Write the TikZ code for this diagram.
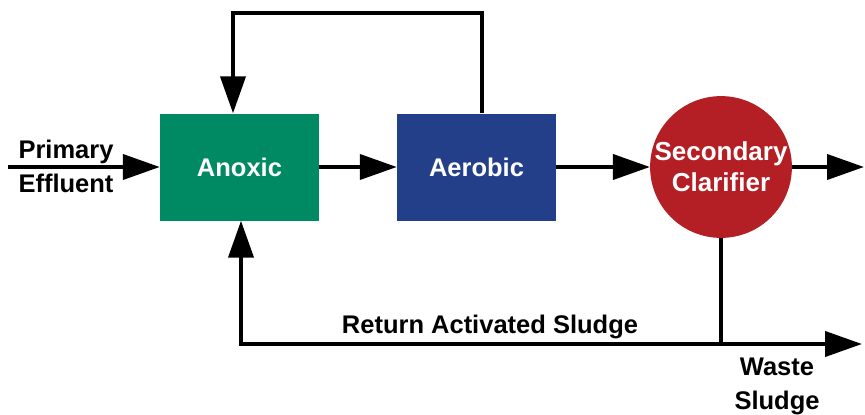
\documentclass[tikz,border=0pt]{standalone}
\usepackage{fontspec}
\setmainfont{Liberation Sans}
\usetikzlibrary{arrows.meta}
\definecolor{anoxgreen}{HTML}{008A64}
\definecolor{aerblue}{HTML}{233F8A}
\definecolor{clarred}{HTML}{B31F24}
\begin{document}
\begin{tikzpicture}[x=1pt,y=-1pt,
  every node/.style={font=\fontsize{25.5}{34}\selectfont\bfseries, inner sep=0pt},
  tank/.style={minimum width=159pt, minimum height=107pt, text=white},
  clar/.style={circle, fill=clarred, minimum size=137pt, text=white, align=center, font=\fontsize{26}{31}\selectfont\bfseries},
  flow/.style={line width=4pt, -{Triangle[length=37pt,width=25pt]}},
  pipe/.style={line width=4pt},
  lbl/.style={text=black, align=center}]
\useasboundingbox (0,0) rectangle (865,415);
\node[tank, fill=anoxgreen] (ano) at (239.5,167) {Anoxic};
\node[tank, fill=aerblue] (aer) at (476.5,167) {Aerobic};
\node[clar] (cla) at (721,167) {Secondary\\Clarifier};
\coordinate (in) at (8,167);
\coordinate (out) at (864,167);
\coordinate (tr) at (482,13);
\coordinate (tl) at (233,13);
\coordinate (bl) at (241,344);
\coordinate (wend) at (862,344);
\node[lbl] (pe) at (66,166) {Primary\\Effluent};
\node[lbl, anchor=base] (ras) at (490,333) {Return Activated Sludge};
\node[lbl, anchor=north] (ws) at (777,358) {Waste\\Sludge};
\draw[flow] (in) -- (ano.west);
\draw[flow] (ano.east) -- (aer.west);
\draw[flow] (aer.east) -- (cla.west);
\draw[flow] (cla.east) -- (out);
\draw[flow] (aer.north -| tr) -- (tr) -- (tl) -- (tl |- ano.north);
\draw[pipe] (cla.south) -- (cla.south |- bl);
\draw[line width=4pt, {Triangle[length=37pt,width=25pt]}-{Triangle[length=37pt,width=25pt]}] (bl |- ano.south) -- (bl) -- (wend);
\end{tikzpicture}
\end{document}
